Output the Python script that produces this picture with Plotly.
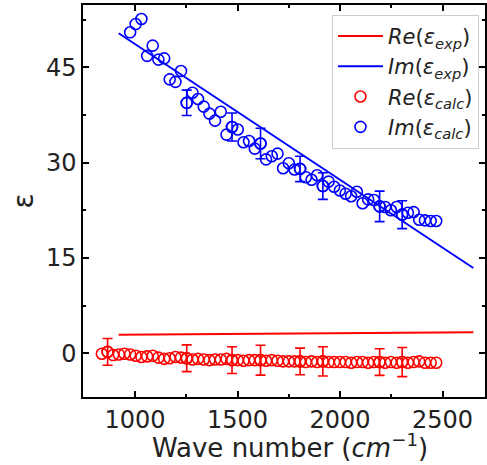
import plotly.graph_objects as go

# Calculated data (wave number grid, cm^-1)
wave = [838, 866, 893, 921, 948, 976, 1003, 1031, 1059, 1086, 1114, 1142, 1169, 1197, 1224,
        1252, 1280, 1307, 1335, 1363, 1390, 1418, 1446, 1473, 1501, 1529, 1556, 1584, 1612, 1639,
        1667, 1695, 1722, 1750, 1778, 1805, 1833, 1861, 1888, 1916, 1944, 1971, 1999, 2027, 2054,
        2082, 2110, 2137, 2165, 2193, 2220, 2248, 2276, 2303, 2331, 2359, 2386, 2414, 2442, 2469]

im_calc = [59.5, 58.5, 57.5, 55.9, 57.0, 50.5, 51.8, 52.6, 46.8, 48.4, 46.2, 46.4, 43.1, 42.7, 44.4,
           39.4, 41.0, 40.0, 38.8, 37.7, 36.6, 38.0, 34.4, 35.6, 35.2, 33.2, 33.4, 32.2, 33.0, 30.5,
           31.0, 31.4, 29.1, 29.9, 28.9, 29.0, 27.7, 27.3, 28.0, 26.3, 27.0, 26.2, 25.6, 25.1, 24.7,
           25.4, 23.6, 24.2, 24.1, 23.1, 23.0, 22.5, 23.0, 21.8, 22.1, 22.2, 21.0, 20.9, 20.8, 20.8]

re_calc = [-0.1, 0.2, -0.3, -0.2, -0.1, -0.2, -0.4, -0.6, -0.5, -0.4, -0.7, -0.9, -0.8, -0.6, -0.7,
           -0.8, -1.0, -0.9, -1.0, -1.1, -1.0, -1.0, -0.9, -1.1, -1.1, -1.2, -1.1, -1.1, -1.1, -1.2,
           -1.1, -1.2, -1.3, -1.3, -1.3, -1.3, -1.4, -1.3, -1.4, -1.3, -1.4, -1.4, -1.4, -1.4, -1.5,
           -1.4, -1.4, -1.5, -1.4, -1.4, -1.5, -1.4, -1.5, -1.4, -1.5, -1.4, -1.3, -1.5, -1.5, -1.5]

# error bars (wave number -> half-width)
err_wave = [866, 1252, 1473, 1612, 1805, 1916, 2193, 2303]
re_err = [2.1, 2.1, 2.1, 2.35, 2.1, 2.3, 2.1, 2.3]
im_err = [2.0, 2.0, 2.2, 2.4, 2.0, 2.1, 2.4, 2.2]

# Experimental (linear) curves
exp_wave = [920, 2650]
re_exp = [2.9, 3.3]
im_exp = [50.35, 13.4]

RED = "#ff0000"
BLUE = "#0000ff"
FONT = "DejaVu Sans"
TXT = "#222222"

fig = go.Figure()

fig.add_trace(go.Scatter(x=exp_wave, y=re_exp, mode="lines", line=dict(color=RED, width=2),
                         name="<i>Re</i>(<i>ε</i><sub><i>exp</i></sub>)"))
fig.add_trace(go.Scatter(x=exp_wave, y=im_exp, mode="lines", line=dict(color=BLUE, width=2),
                         name="<i>Im</i>(<i>ε</i><sub><i>exp</i></sub>)"))

marker_red = dict(symbol="circle-open", size=11, color=RED, line=dict(width=1.6, color=RED))
marker_blue = dict(symbol="circle-open", size=11, color=BLUE, line=dict(width=1.6, color=BLUE))

fig.add_trace(go.Scatter(x=wave, y=re_calc, mode="markers", marker=marker_red,
                         name="<i>Re</i>(<i>ε</i><sub><i>calc</i></sub>)"))
fig.add_trace(go.Scatter(x=wave, y=im_calc, mode="markers", marker=marker_blue,
                         name="<i>Im</i>(<i>ε</i><sub><i>calc</i></sub>)"))

idx = [wave.index(w) for w in err_wave]
fig.add_trace(go.Scatter(x=err_wave, y=[re_calc[i] for i in idx], mode="markers", marker=marker_red,
                         error_y=dict(type="data", array=re_err, color=RED, thickness=1.6, width=5),
                         showlegend=False))
fig.add_trace(go.Scatter(x=err_wave, y=[im_calc[i] for i in idx], mode="markers", marker=marker_blue,
                         error_y=dict(type="data", array=im_err, color=BLUE, thickness=1.6, width=5),
                         showlegend=False))

axis_common = dict(showline=True, linecolor="black", linewidth=1.5, mirror="ticks",
                   ticks="inside", ticklen=6, tickwidth=1.5, tickcolor="black",
                   showgrid=False, zeroline=False, automargin=False,
                   tickfont=dict(family=FONT, size=24, color=TXT))

fig.update_xaxes(range=[746, 2707], tickvals=[1000, 1500, 2000, 2500],
                 minor=dict(tickvals=[750, 1250, 1750, 2250], ticks="inside", ticklen=3,
                            tickwidth=1.5, tickcolor="black"),
                 **axis_common)
fig.update_yaxes(range=[-6.9, 54.8], tickvals=[0, 15, 30, 45],
                 minor=dict(tickvals=[-7.5, 7.5, 22.5, 37.5, 52.5], ticks="inside", ticklen=3,
                            tickwidth=1.5, tickcolor="black"),
                 title=dict(text="ε", font=dict(family=FONT, size=28, color=TXT), standoff=4),
                 **axis_common)

fig.add_annotation(text="Wave number (<i>cm</i><sup>−1</sup>)", xref="paper", yref="paper",
                   x=0.515, y=-0.125, xanchor="center", yanchor="middle", showarrow=False,
                   font=dict(family=FONT, size=26, color=TXT))

fig.update_layout(
    width=487, height=465,
    margin=dict(l=83, r=2, t=5, b=68),
    plot_bgcolor="white", paper_bgcolor="white",
    font=dict(family=FONT, color=TXT),
    legend=dict(x=0.985, y=0.975, xanchor="right", yanchor="top",
                bgcolor="rgba(255,255,255,0.85)", bordercolor="#cccccc", borderwidth=1,
                font=dict(family=FONT, size=21, color=TXT),
                itemwidth=45, tracegroupgap=0),
)

fig.write_html("out.html", config={"displayModeBar": False},
               post_script="document.body.style.margin='0';document.body.style.padding='0';")
